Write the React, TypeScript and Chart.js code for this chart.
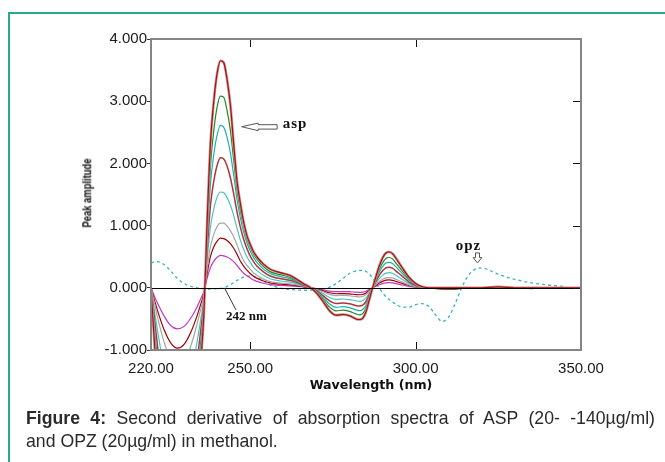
import React, { useEffect, useLayoutEffect, useRef } from "react";
import { Chart, registerables } from "chart.js";

Chart.register(...registerables);

// ---------- data ----------
const WAVELENGTHS = [
  220, 221, 222, 224, 226, 228, 230, 232, 234, 235, 236,
  237, 238, 239, 240, 241, 242, 243, 244, 245, 246, 247, 248, 249, 250, 251, 252,
  254, 256, 258, 260, 262, 264, 266, 268, 270, 272, 274, 276, 278, 280, 282,
  283, 284, 285, 286, 287, 288, 289, 290, 291, 292, 293,
  294, 296, 298, 300, 302, 304,
  308, 312, 316, 320, 325, 330, 335, 340, 345, 350,
];

const ASP_1 = [
  0, -0.85, -1.66, -3.07, -4.04, -4.4, -4.12, -3.29, -2.0, -1.22, -0.41,
  1.1, 2.35, 3.01, 3.45, 3.65, 3.62, 3.35, 2.94, 2.31, 1.72, 1.36, 1.06, 0.84, 0.7, 0.58, 0.5,
  0.38, 0.3, 0.26, 0.23, 0.2, 0.14, 0.07, 0.01, -0.08, -0.22, -0.37, -0.44, -0.43, -0.45, -0.5,
  -0.51, -0.49, -0.385, -0.19, 0, 0.18, 0.35, 0.48, 0.56, 0.576, 0.55,
  0.48, 0.32, 0.17, 0.07, 0.018, 0,
  0, 0, 0, 0, 0.015, 0, 0, 0, 0, 0,
];
const ASP_2 = [
  0, -0.71, -1.4, -2.59, -3.41, -3.72, -3.48, -2.78, -1.69, -1.03, -0.35,
  0.93, 1.98, 2.54, 2.91, 3.08, 3.06, 2.85, 2.53, 2.05, 1.58, 1.25, 0.99, 0.79, 0.65, 0.54, 0.46,
  0.34, 0.26, 0.225, 0.2, 0.17, 0.12, 0.062, 0.01, -0.068, -0.186, -0.31, -0.37, -0.36, -0.38, -0.42,
  -0.434, -0.415, -0.325, -0.16, 0, 0.155, 0.295, 0.4, 0.47, 0.487, 0.465,
  0.4, 0.27, 0.143, 0.059, 0.016, 0,
  -0.01, -0.015, 0, 0, 0, 0, 0, 0, 0, 0,
];
const ASP_3 = [
  0, -0.6, -1.19, -2.19, -2.89, -3.14, -2.94, -2.35, -1.43, -0.87, -0.29,
  0.79, 1.68, 2.15, 2.46, 2.61, 2.58, 2.42, 2.17, 1.81, 1.42, 1.13, 0.9, 0.72, 0.59, 0.485, 0.41,
  0.3, 0.23, 0.195, 0.17, 0.147, 0.106, 0.055, 0.01, -0.058, -0.157, -0.26, -0.314, -0.304, -0.32, -0.356,
  -0.367, -0.35, -0.275, -0.136, 0, 0.131, 0.25, 0.34, 0.4, 0.41, 0.39,
  0.34, 0.228, 0.12, 0.05, 0.013, 0,
  0, 0, 0, 0, 0, 0, 0, 0, 0, 0,
];
const ASP_4 = [
  0, -0.48, -0.95, -1.75, -2.31, -2.52, -2.36, -1.88, -1.15, -0.7, -0.23,
  0.63, 1.34, 1.72, 1.97, 2.09, 2.07, 1.96, 1.77, 1.51, 1.22, 0.98, 0.78, 0.63, 0.51, 0.42, 0.35,
  0.256, 0.19, 0.159, 0.14, 0.12, 0.087, 0.046, 0.008, -0.046, -0.126, -0.21, -0.252, -0.244, -0.256, -0.286,
  -0.294, -0.28, -0.22, -0.11, 0, 0.105, 0.2, 0.273, 0.32, 0.33, 0.315,
  0.273, 0.183, 0.097, 0.04, 0.01, 0,
  0, 0, 0, 0, 0, 0, 0, 0, 0, 0,
];
const ASP_5 = [
  0, -0.36, -0.7, -1.29, -1.71, -1.86, -1.74, -1.39, -0.85, -0.52, -0.17,
  0.47, 0.99, 1.27, 1.46, 1.54, 1.53, 1.45, 1.33, 1.16, 0.96, 0.77, 0.62, 0.5, 0.41, 0.33, 0.28,
  0.2, 0.146, 0.12, 0.105, 0.09, 0.066, 0.036, 0.007, -0.034, -0.093, -0.155, -0.186, -0.18, -0.19, -0.21,
  -0.217, -0.208, -0.163, -0.08, 0, 0.078, 0.147, 0.2, 0.236, 0.243, 0.233,
  0.2, 0.135, 0.071, 0.03, 0.008, 0,
  0, 0, 0, 0, 0, 0, 0, 0, 0, 0,
];
const ASP_6 = [
  0, -0.24, -0.48, -0.88, -1.16, -1.26, -1.18, -0.94, -0.57, -0.35, -0.12,
  0.32, 0.67, 0.86, 0.99, 1.04, 1.04, 0.99, 0.92, 0.82, 0.69, 0.55, 0.44, 0.36, 0.3, 0.24, 0.2,
  0.14, 0.1, 0.082, 0.072, 0.062, 0.046, 0.025, 0.005, -0.023, -0.063, -0.105, -0.126, -0.122, -0.128, -0.143,
  -0.147, -0.14, -0.11, -0.055, 0, 0.052, 0.1, 0.137, 0.16, 0.165, 0.158,
  0.137, 0.091, 0.048, 0.02, 0.005, 0,
  0, 0, 0, 0, 0, 0, 0, 0, 0, 0,
];
const ASP_7 = [
  0, -0.19, -0.37, -0.68, -0.89, -0.97, -0.91, -0.72, -0.44, -0.27, -0.09,
  0.24, 0.51, 0.66, 0.75, 0.8, 0.79, 0.76, 0.71, 0.635, 0.54, 0.43, 0.35, 0.285, 0.23, 0.186, 0.155,
  0.11, 0.079, 0.063, 0.056, 0.048, 0.036, 0.02, 0.004, -0.018, -0.048, -0.08, -0.096, -0.093, -0.098, -0.109,
  -0.112, -0.107, -0.084, -0.042, 0, 0.04, 0.076, 0.104, 0.122, 0.126, 0.12,
  0.104, 0.07, 0.037, 0.015, 0.004, 0,
  -0.02, -0.02, 0, 0, 0, 0, 0, 0, 0, 0,
];
const ASP_8 = [
  0, -0.13, -0.25, -0.46, -0.61, -0.66, -0.62, -0.49, -0.3, -0.18, -0.06,
  0.16, 0.33, 0.43, 0.49, 0.52, 0.513, 0.494, 0.463, 0.421, 0.359, 0.291, 0.234, 0.192, 0.156, 0.125, 0.104,
  0.073, 0.052, 0.042, 0.036, 0.031, 0.023, 0.013, 0.003, -0.011, -0.031, -0.052, -0.062, -0.06, -0.063, -0.071,
  -0.073, -0.07, -0.055, -0.027, 0, 0.026, 0.049, 0.068, 0.079, 0.082, 0.078,
  0.068, 0.045, 0.024, 0.01, 0.003, 0,
  0, 0, 0, 0, 0, 0, -0.015, 0, 0, 0,
];

const OPZ_WAVELENGTHS = [
  220, 222, 224, 226, 228, 230, 232, 234, 236, 238, 240, 242, 244, 246, 248, 250, 252, 254, 256, 258, 260,
  264, 268, 272, 274, 276, 278, 280, 282, 284, 286, 288, 290, 292, 294, 296, 298, 300, 302, 304, 306, 308,
  310, 312, 314, 316, 318, 320, 322, 324, 326, 328, 330, 335, 340, 345,
];
const OPZ_20 = [
  0.4, 0.42, 0.37, 0.27, 0.15, 0.07, 0.025, 0.0, -0.015, -0.02, -0.015, 0.0, 0.05, 0.12, 0.17, 0.19, 0.17, 0.11, 0.05, 0.01, -0.015,
  -0.035, -0.04, -0.02, 0.01, 0.07, 0.15, 0.23, 0.27, 0.28, 0.22, 0.07, -0.08, -0.19, -0.26, -0.31, -0.31, -0.27, -0.255, -0.3, -0.43, -0.54,
  -0.47, -0.25, 0.01, 0.2, 0.3, 0.32, 0.29, 0.24, 0.2, 0.165, 0.135, 0.08, 0.045, 0.02,
];

const X_TICKS = [220, 250, 300, 350];
const Y_MIN = -1;
const Y_MAX = 4;

const ASP_ARROW_TIP = [247.4, 2.59];
const OPZ_ARROW_TIP = [318.7, 0.4];
const NM_MARK = [242.2, 0];

// ---------- styles ----------
const TICK_FONT = { family: "'Liberation Sans', Arial, sans-serif", size: 15 };
const CAPTION_SCALE = 0.93;

const toXY = (xs: number[], ys: number[]) => xs.map((x, i) => ({ x, y: ys[i] }));

const ASP_SERIES = [
  { label: "ASP 8", data: ASP_1, color: "#9c1212", width: 1.1 },
  { label: "ASP 8 halo", data: ASP_1, color: "#d08c8c", width: 2.6 },
  { label: "ASP 7", data: ASP_2, color: "#1c8a24", width: 1.2 },
  { label: "ASP 6", data: ASP_3, color: "#22aeb0", width: 1.2 },
  { label: "ASP 5", data: ASP_4, color: "#ab3838", width: 1.5 },
  { label: "ASP 4", data: ASP_5, color: "#4cc2c4", width: 1.2 },
  { label: "ASP 3", data: ASP_6, color: "#a6a6a6", width: 1.2 },
  { label: "ASP 2", data: ASP_7, color: "#a00000", width: 1.2 },
  { label: "ASP 1", data: ASP_8, color: "#c238c2", width: 1.2 },
];

function FitText(props: {
  text: string;
  width: number;
  cx: number;
  cy: number;
  rotate?: number;
  style?: React.CSSProperties;
}) {
  const ref = useRef<HTMLSpanElement>(null);
  useLayoutEffect(() => {
    const el = ref.current;
    if (!el) return;
    const w = el.offsetWidth;
    const k = w > 0 ? props.width / w : 1;
    el.style.transform = `translate(-50%, -50%) rotate(${props.rotate || 0}deg) scaleX(${k})`;
  }, []);
  return (
    <span
      ref={ref}
      style={{
        position: "absolute",
        left: props.cx,
        top: props.cy,
        whiteSpace: "nowrap",
        lineHeight: 1,
        transform: "translate(-50%, -50%)",
        ...props.style,
      }}
    >
      {props.text}
    </span>
  );
}

const framePlugin = {
  id: "frameAndMarks",
  afterDatasetsDraw(chart: any) {
    const { ctx, chartArea, scales } = chart;
    const { left, right, top, bottom } = chartArea;
    const x = scales.x;
    const y = scales.y;
    ctx.save();
    // zero line
    const y0 = Math.round(y.getPixelForValue(0)) + 0.5;
    ctx.strokeStyle = "#000";
    ctx.lineWidth = 1;
    ctx.beginPath();
    ctx.moveTo(left, y0);
    ctx.lineTo(right, y0);
    ctx.stroke();

    // inward ticks
    ctx.strokeStyle = "#111";
    ctx.beginPath();
    X_TICKS.forEach((v) => {
      const px = Math.round(x.getPixelForValue(v)) + 0.5;
      ctx.moveTo(px, top);
      ctx.lineTo(px, top + 8);
      ctx.moveTo(px, bottom);
      ctx.lineTo(px, bottom - 8);
    });
    for (let v = Y_MIN; v <= Y_MAX; v++) {
      const py = Math.round(y.getPixelForValue(v)) + 0.5;
      ctx.moveTo(right, py);
      ctx.lineTo(right - 8, py);
    }
    ctx.stroke();

    // frame
    ctx.strokeStyle = "#858585";
    ctx.lineWidth = 2;
    ctx.strokeRect(left, top, right - left, bottom - top);

    // asp arrow
    let tx = x.getPixelForValue(ASP_ARROW_TIP[0]);
    let ty = y.getPixelForValue(ASP_ARROW_TIP[1]);
    ctx.beginPath();
    ctx.moveTo(tx, ty);
    ctx.lineTo(tx + 16.5, ty - 3.6);
    ctx.lineTo(tx + 16.5, ty - 2);
    ctx.lineTo(tx + 35.5, ty - 2);
    ctx.lineTo(tx + 35.5, ty + 2.4);
    ctx.lineTo(tx + 16.5, ty + 2.4);
    ctx.lineTo(tx + 16.5, ty + 4);
    ctx.closePath();
    ctx.fillStyle = "#fff";
    ctx.fill();
    ctx.strokeStyle = "#555";
    ctx.lineWidth = 1;
    ctx.stroke();
    ctx.fillStyle = "#111";
    ctx.font = "bold 15px 'Liberation Serif', 'Times New Roman', serif";
    (ctx as any).letterSpacing = "1px";
    ctx.textBaseline = "alphabetic";
    ctx.textAlign = "left";
    ctx.fillText("asp", tx + 41, ty + 1);

    // opz arrow
    tx = x.getPixelForValue(OPZ_ARROW_TIP[0]);
    ty = y.getPixelForValue(OPZ_ARROW_TIP[1]);
    ctx.beginPath();
    ctx.moveTo(tx, ty);
    ctx.lineTo(tx - 4.3, ty - 5.3);
    ctx.lineTo(tx - 2, ty - 5.3);
    ctx.lineTo(tx - 2, ty - 10);
    ctx.lineTo(tx + 2, ty - 10);
    ctx.lineTo(tx + 2, ty - 5.3);
    ctx.lineTo(tx + 4.3, ty - 5.3);
    ctx.closePath();
    ctx.fillStyle = "#fff";
    ctx.fill();
    ctx.strokeStyle = "#555";
    ctx.stroke();
    ctx.fillStyle = "#111";
    ctx.textAlign = "center";
    ctx.fillText("opz", tx - 9, ty - 12.5);

    // 242 nm marker
    tx = x.getPixelForValue(NM_MARK[0]);
    ty = y.getPixelForValue(NM_MARK[1]);
    ctx.strokeStyle = "#333";
    ctx.beginPath();
    ctx.moveTo(tx, ty);
    ctx.lineTo(tx + 11.5, ty + 22);
    ctx.stroke();
    (ctx as any).letterSpacing = "0px";
    ctx.font = "bold 13px 'Liberation Serif', 'Times New Roman', serif";
    ctx.textAlign = "left";
    ctx.fillText("242 nm", tx + 1.5, ty + 32.5);
    ctx.restore();
  },
};

export default function App() {
  const canvasRef = useRef<HTMLCanvasElement>(null);

  useEffect(() => {
    const canvas = canvasRef.current;
    if (!canvas) return;
    const datasets: any[] = ASP_SERIES.map((s) => ({
      label: s.label,
      data: toXY(WAVELENGTHS, s.data),
      borderColor: s.color,
      backgroundColor: s.color,
      borderWidth: s.width,
      fill: false,
    }));
    datasets.push({
      label: "OPZ 20 µg/ml",
      data: toXY(OPZ_WAVELENGTHS, OPZ_20),
      borderColor: "#3ab5b5",
      backgroundColor: "#3ab5b5",
      borderWidth: 1.3,
      borderDash: [3, 3],
      fill: false,
    });

    const chart = new Chart(canvas, {
      type: "line",
      data: { datasets },
      options: {
        animation: false,
        responsive: false,
        maintainAspectRatio: false,
        layout: { padding: { left: 0, right: 84, top: 39, bottom: 72 } },
        plugins: { legend: { display: false }, tooltip: { enabled: false } },
        elements: {
          point: { radius: 0 },
          line: { cubicInterpolationMode: "monotone" },
        },
        scales: {
          x: {
            type: "linear",
            min: 220,
            max: 350,
            afterFit: (s: any) => {
              s.height = 40;
            },
            afterBuildTicks: (s: any) => {
              s.ticks = X_TICKS.map((v) => ({ value: v }));
            },
            ticks: {
              autoSkip: false,
              maxRotation: 0,
              padding: 10,
              font: TICK_FONT,
              color: "#1a1a1a",
              callback: (v: any) => Number(v).toFixed(2),
            },
            grid: { display: false, drawTicks: false },
            border: { display: false },
          },
          y: {
            type: "linear",
            min: Y_MIN,
            max: Y_MAX,
            afterFit: (s: any) => {
              s.width = 151;
            },
            ticks: {
              stepSize: 1,
              padding: 0,
              font: TICK_FONT,
              color: "#1a1a1a",
              callback: (v: any) => Number(v).toFixed(3),
            },
            grid: { drawOnChartArea: false, drawTicks: true, tickLength: 4, color: "#333" },
            border: { display: false },
          },
        },
      } as any,
      plugins: [framePlugin],
    });
    return () => chart.destroy();
  }, []);

  const captionStyle: React.CSSProperties = {
    position: "absolute",
    left: 26,
    width: 629 / CAPTION_SCALE,
    fontFamily: "'Liberation Sans', Arial, sans-serif",
    fontSize: 19,
    lineHeight: "22px",
    color: "#2a2a2a",
    whiteSpace: "normal",
    transform: `scaleX(${CAPTION_SCALE})`,
    transformOrigin: "0 0",
  };

  return (
    <div
      style={{
        position: "fixed",
        left: 0,
        top: 0,
        width: 665,
        height: 462,
        overflow: "hidden",
        background: "#fff",
      }}
    >
      <div
        style={{
          position: "absolute",
          left: 8,
          top: 12,
          width: 720,
          height: 520,
          borderLeft: "2px solid #2aa88f",
          borderTop: "2px solid #2aa88f",
        }}
      />
      <canvas
        ref={canvasRef}
        width={665}
        height={462}
        style={{ position: "absolute", left: 0, top: 0, width: 665, height: 462 }}
      />
      <FitText
        text="Peak amplitude"
        width={69}
        cx={86.7}
        cy={192.8}
        rotate={-90}
        style={{
          fontFamily: "'Liberation Sans', Arial, sans-serif",
          fontWeight: 700,
          fontSize: 13.5,
          color: "#111",
        }}
      />
      <FitText
        text="Wavelength (nm)"
        width={123}
        cx={371}
        cy={385}
        style={{
          fontFamily: "'DejaVu Sans', Verdana, sans-serif",
          fontWeight: 700,
          fontSize: 12,
          color: "#111",
        }}
      />
      <div style={{ ...captionStyle, top: 406.5, textAlign: "justify", textAlignLast: "justify" }}>
        <b>Figure 4:</b> Second derivative of absorption spectra of ASP (20- -140µg/ml)
      </div>
      <div style={{ ...captionStyle, top: 429.5, textAlign: "left" }}>
        and OPZ (20µg/ml) in methanol.
      </div>
    </div>
  );
}
